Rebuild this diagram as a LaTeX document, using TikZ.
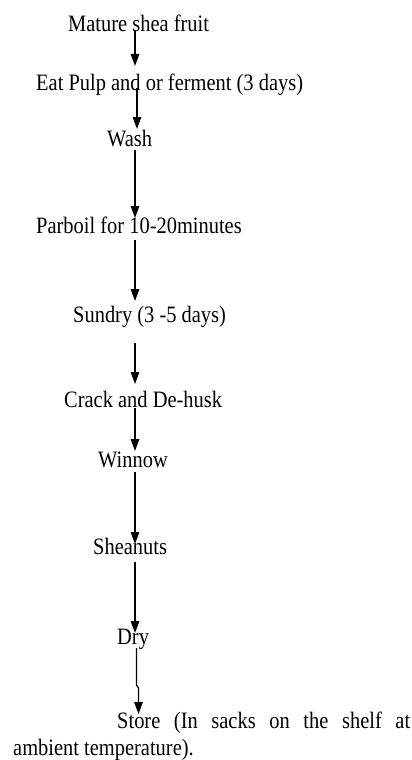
\documentclass[tikz,border=0pt]{standalone}
\usepackage{fontspec}
\setmainfont{Liberation Serif}[FakeStretch=0.87]
\usetikzlibrary{arrows.meta}
\begin{document}
\begin{tikzpicture}[x=1pt,y=-1pt,
  lbl/.style={anchor=base west, inner sep=0pt, font=\fontsize{23.5}{26}\selectfont, text=black},
  flow/.style={line width=1.3pt, -{Triangle[width=8.5pt,length=12pt]}}]
\useasboundingbox (0,0) rectangle (412,760);
\node[lbl] (mature) at (68,31.7) {Mature shea fruit};
\node[lbl] (eat) at (36,90) {Eat Pulp and or ferment (3 days)};
\node[lbl] (wash) at (107,146.7) {Wash};
\node[lbl] (parboil) at (36,233) {Parboil for 10-20minutes};
\node[lbl] (sundry) at (73,322) {Sundry (3 -5 days)};
\node[lbl] (crack) at (64,407) {Crack and De-husk};
\node[lbl] (winnow) at (98,467) {Winnow};
\node[lbl] (shea) at (93,554) {Sheanuts};
\node[lbl] (dry) at (117,644) {Dry};
\node[lbl] (store) at (117,728) {\makebox[293pt][s]{Store (In sacks on the shelf at}};
\node[lbl] (amb) at (13,755) {ambient temperature).};
\coordinate (s1) at (135,30); \coordinate (e1) at (135,66);
\coordinate (s2) at (137,88); \coordinate (e2) at (137,129);
\coordinate (s3) at (135,150); \coordinate (e3) at (135,218);
\coordinate (s4) at (135,240); \coordinate (e4) at (135,301);
\coordinate (s5) at (135,343); \coordinate (e5) at (135,384);
\coordinate (s6) at (135,408); \coordinate (e6) at (135,451);
\coordinate (s7) at (135,472); \coordinate (e7) at (135,544);
\coordinate (s8) at (135,562); \coordinate (e8) at (135,633);
\coordinate (s9) at (136.5,648); \coordinate (j9a) at (136.5,685);
\coordinate (j9b) at (138.5,688); \coordinate (e9) at (138.5,714);
\draw[flow] (s1) -- (e1);
\draw[flow] (s2) -- (e2);
\draw[flow] (s3) -- (e3);
\draw[flow] (s4) -- (e4);
\draw[flow] (s5) -- (e5);
\draw[flow] (s6) -- (e6);
\draw[flow] (s7) -- (e7);
\draw[flow] (s8) -- (e8);
\draw[flow] (s9) -- (j9a) -- (j9b) -- (e9);
\end{tikzpicture}
\end{document}
